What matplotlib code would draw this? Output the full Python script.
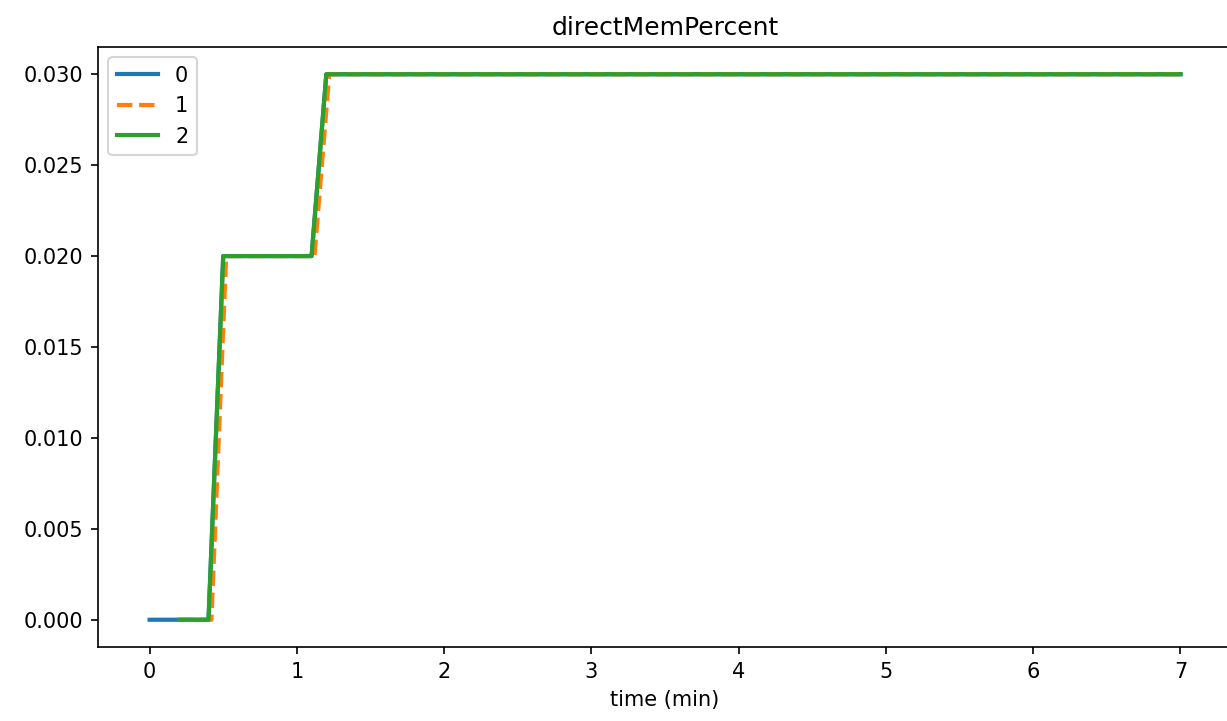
import numpy as np
import matplotlib
matplotlib.use('Agg')
import matplotlib.pyplot as plt

# time (min) and directMemPercent for each run
t0 = [0.0, 0.1, 0.2, 0.3, 0.4, 0.5, 1.1, 1.2, 7.0]
v0 = [0.0, 0.0, 0.0, 0.0, 0.0, 0.02, 0.02, 0.03, 0.03]
t1 = [0.2, 0.3, 0.42, 0.52, 1.12, 1.22, 7.0]
v1 = [0.0, 0.0, 0.0, 0.02, 0.02, 0.03, 0.03]
t2 = [0.2, 0.3, 0.4, 0.5, 1.1, 1.2, 7.0]
v2 = [0.0, 0.0, 0.0, 0.02, 0.02, 0.03, 0.03]

fig = plt.figure(figsize=(8.18, 4.807), dpi=150)
ax = fig.add_axes([0.0799, 0.1026, 0.9242, 0.8322])
ax.plot(t0, v0, color='#1f77b4', linestyle='-', linewidth=2, label='0')
ax.plot(t1, v1, color='#ff7f0e', linestyle='--', linewidth=2, label='1')
ax.plot(t2, v2, color='#2ca02c', linestyle='-', linewidth=2, label='2')
ax.set_title('directMemPercent')
ax.set_xlabel('time (min)')
ax.legend(loc='upper left')
plt.savefig('out.png', dpi=150)
plt.close()
